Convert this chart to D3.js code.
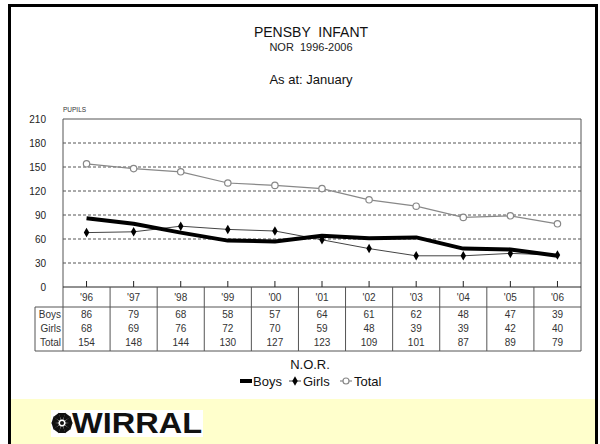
<!DOCTYPE html>
<html>
<head>
<meta charset="utf-8">
<script src="https://cdn.jsdelivr.net/npm/d3@7"></script>
<style>
  body { margin: 0; background: #fff; }
  svg { display: block; font-family: "Liberation Sans", Arial, sans-serif; }
  svg text { white-space: pre; }
</style>
</head>
<body>
<script>
// データ
const years = ["'96", "'97", "'98", "'99", "'00", "'01", "'02", "'03", "'04", "'05", "'06"];
const boys = [86, 79, 68, 58, 57, 64, 61, 62, 48, 47, 39];
const girls = [68, 69, 76, 72, 70, 59, 48, 39, 39, 42, 40];
const total = [154, 148, 144, 130, 127, 123, 109, 101, 87, 89, 79];
const yTicks = [0, 30, 60, 90, 120, 150, 180, 210];

const w = 600;
const h = 444;
const plotLeft = 63, plotRight = 581, plotTop = 119, plotBottom = 287;
const tableBottom = 351;

const svg = d3.select("body").append("svg").attr("width", w).attr("height", h);

// 下の黄色い帯
svg.append("rect")
  .attr("x", 11).attr("y", 399).attr("width", 585).attr("height", 50)
  .attr("fill", "#ffffcc");

// 外枠
svg.append("rect")
  .attr("x", 9.5).attr("y", 5.5).attr("width", 587).attr("height", 460)
  .attr("fill", "none").attr("stroke", "#000").attr("stroke-width", 3);

// タイトル
const cx = 311;
svg.append("text").attr("x", cx).attr("y", 37).attr("text-anchor", "middle")
  .attr("font-size", 14).attr("fill", "#111").text("PENSBY  INFANT");
svg.append("text").attr("x", cx).attr("y", 51).attr("text-anchor", "middle")
  .attr("font-size", 11).attr("fill", "#222").text("NOR  1996-2006");
svg.append("text").attr("x", cx).attr("y", 84).attr("text-anchor", "middle")
  .attr("font-size", 13).attr("fill", "#111").text("As at: January");

const xScale = d3.scaleBand().domain(years).range([plotLeft, plotRight]);
const yScale = d3.scaleLinear().domain([0, 210]).range([plotBottom, plotTop]);
const xc = d => xScale(d) + xScale.bandwidth() / 2;

// グリッド線
svg.append("g")
  .selectAll("line")
  .data(yTicks.filter(v => v > 0 && v < 210))
  .enter()
  .append("line")
  .attr("x1", plotLeft).attr("x2", plotRight)
  .attr("y1", d => yScale(d)).attr("y2", d => yScale(d))
  .attr("stroke", "#555").attr("stroke-dasharray", "3,2");

// Y軸
const yAxis = d3.axisLeft(yScale).tickValues(yTicks).tickSize(0).tickPadding(17);
svg.append("g")
  .attr("transform", "translate(" + plotLeft + ",0)")
  .call(yAxis)
  .call(g => g.select(".domain").remove())
  .selectAll("text")
  .attr("font-size", 10).attr("fill", "#222").attr("font-family", "Liberation Sans, Arial");

svg.append("text").attr("x", plotLeft).attr("y", 112)
  .attr("font-size", 6.5).attr("fill", "#333").text("PUPILS");

// X軸の目盛り
const xAxis = d3.axisBottom(xScale).tickSize(-6).tickFormat("");
svg.append("g")
  .attr("transform", "translate(0," + plotBottom + ")")
  .call(xAxis)
  .call(g => g.select(".domain").remove())
  .selectAll("line").attr("stroke", "#222");

// 枠線
const frame = svg.append("g").attr("stroke", "#555").attr("fill", "none");
frame.append("line").attr("x1", plotLeft).attr("x2", plotRight).attr("y1", plotTop).attr("y2", plotTop);
frame.append("line").attr("x1", plotLeft).attr("x2", plotLeft).attr("y1", plotTop).attr("y2", tableBottom);
frame.append("line").attr("x1", plotRight).attr("x2", plotRight).attr("y1", plotTop).attr("y2", tableBottom);
frame.append("line").attr("x1", plotLeft).attr("x2", plotRight).attr("y1", plotBottom).attr("y2", plotBottom).attr("stroke", "#222");
frame.append("line").attr("x1", 35).attr("x2", plotRight).attr("y1", 307).attr("y2", 307);
frame.append("line").attr("x1", 35).attr("x2", plotRight).attr("y1", tableBottom).attr("y2", tableBottom);
frame.append("line").attr("x1", 35).attr("x2", 35).attr("y1", 307).attr("y2", tableBottom);
frame.selectAll(".col")
  .data(years.slice(1))
  .enter()
  .append("line")
  .attr("x1", d => xScale(d)).attr("x2", d => xScale(d))
  .attr("y1", plotBottom).attr("y2", tableBottom);

// 表
const table = svg.append("g").attr("font-size", 10).attr("fill", "#333");
table.selectAll(".yr")
  .data(years)
  .enter()
  .append("text")
  .attr("x", xc).attr("y", 301).attr("text-anchor", "middle")
  .text(d => d);
const rows = [["Boys", boys], ["Girls", girls], ["Total", total]];
rows.forEach(function (r, i) {
  const yy = 318 + i * 14;
  table.append("text").attr("x", 61).attr("y", yy).attr("text-anchor", "end").text(r[0]);
  table.selectAll(".v" + i)
    .data(r[1])
    .enter()
    .append("text")
    .attr("x", (d, j) => xc(years[j])).attr("y", yy).attr("text-anchor", "middle")
    .text(d => d);
});

// 線
const line = d3.line()
  .x((d, i) => xc(years[i]))
  .y(d => yScale(d));

svg.append("path").datum(total).attr("d", line)
  .attr("fill", "none").attr("stroke", "#888").attr("stroke-width", 1.2);
svg.selectAll(".tm")
  .data(total)
  .enter()
  .append("circle")
  .attr("cx", (d, i) => xc(years[i])).attr("cy", d => yScale(d)).attr("r", 3.2)
  .attr("fill", "#fff").attr("stroke", "#888").attr("stroke-width", 1.2);

svg.append("path").datum(girls).attr("d", line)
  .attr("fill", "none").attr("stroke", "#444").attr("stroke-width", 1);
svg.selectAll(".gm")
  .data(girls)
  .enter()
  .append("path")
  .attr("d", d3.symbol().type(d3.symbolDiamond).size(26))
  .attr("transform", (d, i) => "translate(" + xc(years[i]) + "," + yScale(d) + ")")
  .attr("fill", "#000");

svg.append("path").datum(boys).attr("d", line)
  .attr("fill", "none").attr("stroke", "#000").attr("stroke-width", 4)
  .attr("stroke-linejoin", "round");

// 軸タイトル
svg.append("text").attr("x", 310).attr("y", 369).attr("text-anchor", "middle")
  .attr("font-size", 13).attr("fill", "#111").text("N.O.R.");

// 凡例
const lg = svg.append("g").attr("font-size", 13).attr("fill", "#111");
const ly = 381;
lg.append("line").attr("x1", 240).attr("x2", 252).attr("y1", ly).attr("y2", ly)
  .attr("stroke", "#000").attr("stroke-width", 4);
lg.append("text").attr("x", 253).attr("y", ly + 5).text("Boys");
lg.append("line").attr("x1", 289).attr("x2", 301).attr("y1", ly).attr("y2", ly)
  .attr("stroke", "#444").attr("stroke-width", 1);
lg.append("path").attr("d", d3.symbol().type(d3.symbolDiamond).size(26))
  .attr("transform", "translate(295," + ly + ")").attr("fill", "#000");
lg.append("text").attr("x", 303).attr("y", ly + 5).text("Girls");
lg.append("line").attr("x1", 340).attr("x2", 352).attr("y1", ly).attr("y2", ly)
  .attr("stroke", "#888").attr("stroke-width", 1.2);
lg.append("circle").attr("cx", 346).attr("cy", ly).attr("r", 3)
  .attr("fill", "#fff").attr("stroke", "#888").attr("stroke-width", 1.2);
lg.append("text").attr("x", 354).attr("y", ly + 5).text("Total");

// ロゴ
const logo = svg.append("g");
logo.append("rect").attr("x", 51).attr("y", 410).attr("width", 152).attr("height", 27).attr("fill", "#fff");
const icon = logo.append("g").attr("transform", "translate(62,423)");
icon.selectAll("path")
  .data(d3.range(10))
  .enter()
  .append("path")
  .attr("d", "M-1,-3.5 L1,-3.5 L3.5,-10 L-3.5,-10 Z")
  .attr("transform", d => "rotate(" + d * 36 + ")")
  .attr("fill", "#111");
icon.append("circle").attr("r", 2).attr("fill", "#111");
logo.append("text").attr("x", 72).attr("y", 433)
  .attr("font-size", 29).attr("font-weight", "bold").attr("fill", "#111")
  .attr("font-family", "Liberation Sans, Arial")
  .attr("textLength", 130).attr("lengthAdjust", "spacingAndGlyphs")
  .text("WIRRAL");
</script>
</body>
</html>
